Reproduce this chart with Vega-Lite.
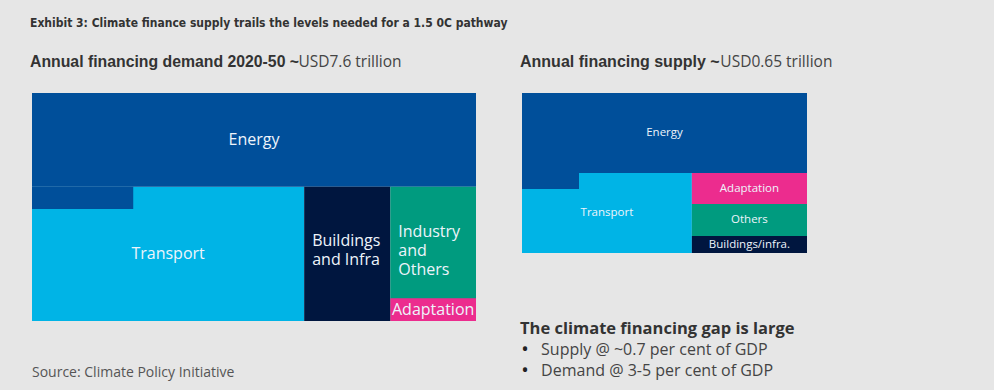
{
  "$schema": "https://vega.github.io/schema/vega-lite/v6.json",
  "background": "#e6e6e6",
  "padding": {"left": 30, "top": 16, "right": 200, "bottom": 60},
  "bounds": "flush",
  "spacing": 46,
  "config": {"view": {"stroke": null}, "axis": {"disable": true}},
  "datasets": {
    "rects": [
      {"part": "demand", "group": "Transport", "label": "Transport", "x0": 0, "x1": 61.3, "y0": 0, "y1": 58.9},
      {"part": "demand", "group": "Energy", "label": "Energy", "x0": 0, "x1": 100, "y0": 58.9, "y1": 100},
      {"part": "demand", "group": "Energy", "label": null, "x0": 0, "x1": 22.8, "y0": 49.1, "y1": 58.9},
      {"part": "demand", "group": "Buildings", "label": "Buildings\nand Infra", "x0": 61.3, "x1": 80.7, "y0": 0, "y1": 58.9},
      {"part": "demand", "group": "Others", "label": "Industry\nand\nOthers", "x0": 80.7, "x1": 100, "y0": 0, "y1": 58.9},
      {"part": "demand", "group": "Adaptation", "label": "Adaptation", "x0": 80.7, "x1": 100, "y0": 0, "y1": 10},
      {"part": "supply", "group": "Transport", "label": "Transport", "x0": 0, "x1": 59.6, "y0": 0, "y1": 50},
      {"part": "supply", "group": "Energy", "label": "Energy", "x0": 0, "x1": 100, "y0": 50, "y1": 100},
      {"part": "supply", "group": "Energy", "label": null, "x0": 0, "x1": 20, "y0": 40, "y1": 50},
      {"part": "supply", "group": "Adaptation", "label": "Adaptation", "x0": 59.6, "x1": 100, "y0": 30.6, "y1": 50},
      {"part": "supply", "group": "Others", "label": "Others", "x0": 59.6, "x1": 100, "y0": 10.6, "y1": 30.6},
      {"part": "supply", "group": "Buildings", "label": "Buildings/infra.", "x0": 59.6, "x1": 100, "y0": 0, "y1": 10.6}
    ]
  },
  "hconcat": [
    {
      "width": 444,
      "height": 228,
      "layer": [
        {
          "data": {"name": "rects"},
          "transform": [{"filter": "datum.part == 'demand'"}],
          "mark": {"type": "rect"},
          "encoding": {
            "x": {"field": "x0", "type": "quantitative", "scale": {"domain": [0, 100], "nice": false, "zero": false}, "axis": null},
            "x2": {"field": "x1"},
            "y": {"field": "y0", "type": "quantitative", "scale": {"domain": [0, 100], "nice": false, "zero": false}, "axis": null},
            "y2": {"field": "y1"},
            "color": {"field": "group", "type": "nominal", "legend": null,
              "scale": {"domain": ["Energy", "Transport", "Buildings", "Others", "Adaptation"], "range": ["#004f9a", "#00b4e6", "#00163f", "#009b7f", "#ec2c8e"]}}
          }
        },
        {
          "data": {"name": "rects"},
          "transform": [
            {"filter": "datum.part == 'demand' && datum.label != null && datum.group != 'Buildings' && datum.group != 'Others'"},
            {"calculate": "(datum.x0 + datum.x1) / 2", "as": "cx"},
            {"calculate": "(datum.y0 + datum.y1) / 2", "as": "cy"}
          ],
          "mark": {"type": "text", "font": "Open Sans", "fontSize": 16, "color": "#eef4fb", "align": "center", "baseline": "middle"},
          "encoding": {
            "x": {"field": "cx", "type": "quantitative"},
            "y": {"field": "cy", "type": "quantitative"},
            "text": {"field": "label"}
          }
        },
        {
          "data": {"name": "rects"},
          "transform": [
            {"filter": "datum.part == 'demand' && datum.group == 'Buildings'"},
            {"calculate": "(datum.y0 + datum.y1) / 2", "as": "cy"}
          ],
          "mark": {"type": "text", "font": "Open Sans", "fontSize": 16, "color": "#eef4fb", "align": "left", "dx": 8, "dy": -12.5, "baseline": "middle", "lineBreak": "\n", "lineHeight": 19},
          "encoding": {
            "x": {"field": "x0", "type": "quantitative"},
            "y": {"field": "cy", "type": "quantitative"},
            "text": {"field": "label"}
          }
        },
        {
          "data": {"name": "rects"},
          "transform": [
            {"filter": "datum.part == 'demand' && datum.group == 'Others'"},
            {"calculate": "(datum.y0 + datum.y1) / 2", "as": "cy"}
          ],
          "mark": {"type": "text", "font": "Open Sans", "fontSize": 16, "color": "#eef4fb", "align": "left", "dx": 8, "dy": -22, "baseline": "middle", "lineBreak": "\n", "lineHeight": 19},
          "encoding": {
            "x": {"field": "x0", "type": "quantitative"},
            "y": {"field": "cy", "type": "quantitative"},
            "text": {"field": "label"}
          }
        },
        {
          "data": {"values": [{"t": "Exhibit 3: Climate finance supply trails the levels needed for a 1.5 0C pathway"}]},
          "mark": {"type": "text", "font": "Liberation Sans Narrow, DejaVu Sans Condensed, Liberation Sans", "fontWeight": "bold", "fontSize": 12, "color": "#333333", "align": "left", "baseline": "middle"},
          "encoding": {
            "x": {"datum": -0.45, "type": "quantitative"},
            "y": {"datum": 130.8, "type": "quantitative"},
            "text": {"field": "t"}
          }
        },
        {
          "data": {"values": [{"t": "Annual financing demand 2020-50 ~"}]},
          "mark": {"type": "text", "font": "Liberation Sans", "fontWeight": "bold", "fontSize": 15.8, "color": "#333333", "align": "left", "baseline": "middle"},
          "encoding": {
            "x": {"datum": -0.45, "type": "quantitative"},
            "y": {"datum": 113.6, "type": "quantitative"},
            "text": {"field": "t"}
          }
        },
        {
          "data": {"values": [{"t": "USD7.6 trillion"}]},
          "mark": {"type": "text", "font": "Open Sans", "fontSize": 15.5, "color": "#444444", "align": "left", "baseline": "middle"},
          "encoding": {
            "x": {"datum": 60.0, "type": "quantitative"},
            "y": {"datum": 113.6, "type": "quantitative"},
            "text": {"field": "t"}
          }
        },
        {
          "data": {"values": [{"t": "Source: Climate Policy Initiative"}]},
          "mark": {"type": "text", "font": "Open Sans", "fontSize": 14, "color": "#555555", "align": "left", "baseline": "middle"},
          "encoding": {
            "x": {"datum": 0, "type": "quantitative"},
            "y": {"datum": -22.8, "type": "quantitative"},
            "text": {"field": "t"}
          }
        }
      ]
    },
    {
      "width": 285,
      "height": 160,
      "layer": [
        {
          "data": {"name": "rects"},
          "transform": [{"filter": "datum.part == 'supply'"}],
          "mark": {"type": "rect"},
          "encoding": {
            "x": {"field": "x0", "type": "quantitative", "scale": {"domain": [0, 100], "nice": false, "zero": false}, "axis": null},
            "x2": {"field": "x1"},
            "y": {"field": "y0", "type": "quantitative", "scale": {"domain": [0, 100], "nice": false, "zero": false}, "axis": null},
            "y2": {"field": "y1"},
            "color": {"field": "group", "type": "nominal", "legend": null,
              "scale": {"domain": ["Energy", "Transport", "Buildings", "Others", "Adaptation"], "range": ["#004f9a", "#00b4e6", "#00163f", "#009b7f", "#ec2c8e"]}}
          }
        },
        {
          "data": {"name": "rects"},
          "transform": [
            {"filter": "datum.part == 'supply' && datum.label != null"},
            {"calculate": "(datum.x0 + datum.x1) / 2", "as": "cx"},
            {"calculate": "(datum.y0 + datum.y1) / 2", "as": "cy"}
          ],
          "mark": {"type": "text", "font": "Open Sans", "fontSize": 11.5, "color": "#eef4fb", "align": "center", "baseline": "middle"},
          "encoding": {
            "x": {"field": "cx", "type": "quantitative"},
            "y": {"field": "cy", "type": "quantitative"},
            "text": {"field": "label"}
          }
        },
        {
          "data": {"values": [{"t": "Annual financing supply ~"}]},
          "mark": {"type": "text", "font": "Liberation Sans", "fontWeight": "bold", "fontSize": 16, "color": "#333333", "align": "left", "baseline": "middle"},
          "encoding": {
            "x": {"datum": -0.7, "type": "quantitative"},
            "y": {"datum": 119.4, "type": "quantitative"},
            "text": {"field": "t"}
          }
        },
        {
          "data": {"values": [{"t": "USD0.65 trillion"}]},
          "mark": {"type": "text", "font": "Open Sans", "fontSize": 15.5, "color": "#444444", "align": "left", "baseline": "middle"},
          "encoding": {
            "x": {"datum": 69.6, "type": "quantitative"},
            "y": {"datum": 119.4, "type": "quantitative"},
            "text": {"field": "t"}
          }
        },
        {
          "data": {"values": [{"t": "The climate financing gap is large"}]},
          "mark": {"type": "text", "font": "Open Sans", "fontWeight": "bold", "fontSize": 16.5, "color": "#333333", "align": "left", "baseline": "middle"},
          "encoding": {
            "x": {"datum": -0.7, "type": "quantitative"},
            "y": {"datum": -47.5, "type": "quantitative"},
            "text": {"field": "t"}
          }
        },
        {
          "data": {"values": [{"t": "•\n•"}]},
          "mark": {"type": "text", "font": "Open Sans", "fontSize": 20, "color": "#222222", "align": "left", "baseline": "middle", "lineBreak": "\n", "lineHeight": 21},
          "encoding": {
            "x": {"datum": -0.3, "type": "quantitative"},
            "y": {"datum": -60.6, "type": "quantitative"},
            "text": {"field": "t"}
          }
        },
        {
          "data": {"values": [{"t": "Supply @ ~0.7 per cent of GDP\nDemand @ 3-5 per cent of GDP"}]},
          "mark": {"type": "text", "font": "Open Sans", "fontSize": 16, "color": "#444444", "align": "left", "baseline": "middle", "lineBreak": "\n", "lineHeight": 21},
          "encoding": {
            "x": {"datum": 6.7, "type": "quantitative"},
            "y": {"datum": -60.6, "type": "quantitative"},
            "text": {"field": "t"}
          }
        }
      ]
    }
  ]
}
